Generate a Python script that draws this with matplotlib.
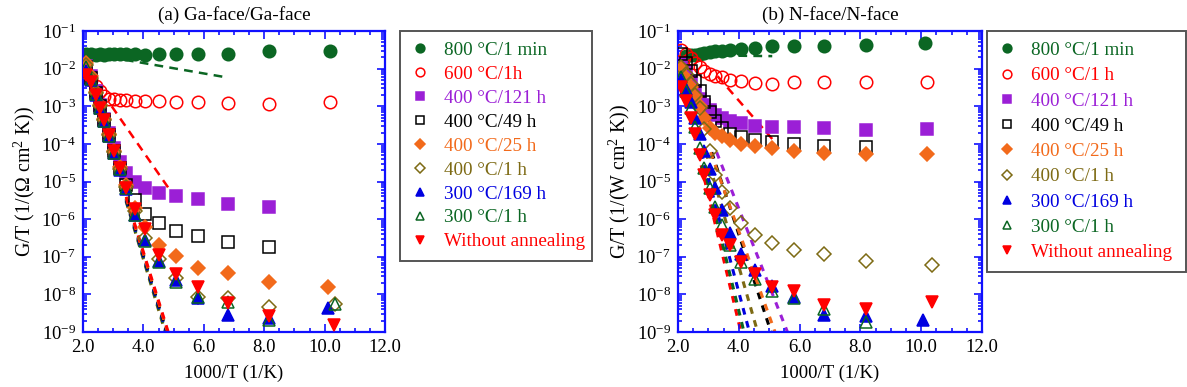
import numpy as np
import matplotlib
matplotlib.use('Agg')
import matplotlib.pyplot as plt
from matplotlib.ticker import MultipleLocator, LogLocator, NullFormatter

plt.rcParams['font.family'] = ['Liberation Serif', 'DejaVu Serif']
plt.rcParams['mathtext.fontset'] = 'custom'
plt.rcParams['mathtext.rm'] = 'Liberation Serif'
plt.rcParams['mathtext.it'] = 'Liberation Serif:italic'

# 1000/T grid shared by both samples (1/K)
inv_t = [2.11, 2.27, 2.42, 2.57, 2.71, 2.87, 3.04, 3.23, 3.44, 3.71,
         4.06, 4.52, 5.08, 5.82, 6.80, 8.17, 10.22]

labels_a = ['800 °C/1 min', '600 °C/1h', '400 °C/121 h', '400 °C/49 h', '400 °C/25 h',
            '400 °C/1 h', '300 °C/169 h', '300 °C/1 h', 'Without annealing']
labels_b = ['800 °C/1 min', '600 °C/1 h', '400 °C/121 h', '400 °C/49 h', '400 °C/25 h',
            '400 °C/1 h', '300 °C/169 h', '300 °C/1 h', 'Without annealing']

nan = np.nan

# (a) Ga-face/Ga-face, G/T values
ga_800_1min = [2.4e-2, 2.5e-2, 2.3e-2, 2.4e-2, 2.3e-2, 2.4e-2, 2.45e-2, 2.5e-2, 2.4e-2,
               2.5e-2, 2.3e-2, 2.4e-2, 2.5e-2, 2.5e-2, 2.5e-2, 2.9e-2, 3.0e-2]
ga_600_1h = [7.9e-3, 5.0e-3, 3.5e-3, 2.5e-3, 1.9e-3, 1.6e-3, 1.55e-3, 1.5e-3, 1.45e-3,
             1.4e-3, 1.35e-3, 1.35e-3, 1.3e-3, 1.3e-3, 1.25e-3, 1.15e-3, 1.3e-3]
ga_400_121h = [1.2e-2, 6.3e-3, 2.5e-3, 1.05e-3, 4.7e-4, 1.9e-4, 7.6e-5, 3.3e-5, 1.66e-5,
               1.0e-5, 6.8e-6, 5.0e-6, 4.0e-6, 3.4e-6, 2.5e-6, 2.1e-6, nan]
ga_400_49h = [1.1e-2, 5.8e-3, 2.3e-3, 1.0e-3, 4.4e-4, 1.75e-4, 6.3e-5, 2.3e-5, 7.9e-6,
              3.2e-6, 1.35e-6, 8.0e-7, 4.9e-7, 3.5e-7, 2.5e-7, 1.8e-7, nan]
ga_400_25h = [1.4e-2, 6.3e-3, 2.4e-3, 1.05e-3, 4.6e-4, 1.8e-4, 6.6e-5, 2.4e-5, 7.9e-6,
              2.0e-6, 6.0e-7, 2.0e-7, 1.05e-7, 4.9e-8, 3.7e-8, 2.1e-8, 1.6e-8]
ga_400_1h = [1.26e-2, 5.8e-3, 2.3e-3, 1.0e-3, 4.3e-4, 1.7e-4, 6.2e-5, 2.2e-5, 7.1e-6,
             1.6e-6, 3.2e-7, 8.9e-8, 2.8e-8, 8.3e-9, 7.8e-9, 4.7e-9, 5.7e-9]
ga_300_169h = [8.7e-3, 5.0e-3, 2.0e-3, 8.9e-4, 4.0e-4, 1.6e-4, 5.6e-5, 2.0e-5, 6.3e-6,
               1.26e-6, 2.75e-7, 7.9e-8, 2.4e-8, 7.8e-9, 2.8e-9, 2.3e-9, 4.3e-9]
ga_300_1h = [1.1e-2, 5.2e-3, 2.1e-3, 9.1e-4, 4.0e-4, 1.6e-4, 5.8e-5, 2.1e-5, 6.6e-6,
             1.3e-6, 2.6e-7, 7.4e-8, 2.1e-8, 8.3e-9, 6.3e-9, 2.1e-9, 5.4e-9]
ga_none = [6.8e-3, 4.5e-3, 2.0e-3, 8.9e-4, 4.2e-4, 1.7e-4, 6.3e-5, 2.3e-5, 6.9e-6,
           1.9e-6, 5.4e-7, 1.1e-7, 3.5e-8, 1.6e-8, 5.9e-9, 2.6e-9, 1.5e-9]
ga_last_x = [10.18, 10.18, 10.2, 10.2, 10.1, 10.35, 10.1, 10.35, 10.3]

# (b) N-face/N-face, G/T values
n_800_1min = [nan, 2.2e-2, 2.3e-2, 2.35e-2, 2.5e-2, 2.6e-2, 2.75e-2, 2.95e-2, 3.0e-2,
              3.2e-2, 3.3e-2, 3.6e-2, 3.9e-2, 4.1e-2, 4.1e-2, 4.3e-2, 4.7e-2]
n_600_1h = [3.2e-2, 2.4e-2, 1.9e-2, 1.4e-2, 1.1e-2, 8.7e-3, 7.4e-3, 6.5e-3, 6.0e-3,
            5.1e-3, 4.8e-3, 4.1e-3, 4.0e-3, 4.3e-3, 4.3e-3, 4.3e-3, 4.5e-3]
n_400_121h = [1.3e-2, 7.9e-3, 4.5e-3, 2.5e-3, 1.6e-3, 1.1e-3, 7.9e-4, 5.9e-4, 4.8e-4,
              4.1e-4, 3.6e-4, 3.0e-4, 2.8e-4, 2.75e-4, 2.6e-4, 2.3e-4, 2.45e-4]
n_400_49h = [2.4e-2, 1.4e-2, 8.7e-3, 4.8e-3, 2.5e-3, 1.3e-3, 7.1e-4, 4.0e-4, 2.6e-4,
             1.8e-4, 1.5e-4, 1.3e-4, 1.15e-4, 1.0e-4, 8.9e-5, 8.3e-5, nan]
n_400_25h = [1.07e-2, 5.6e-3, 3.2e-3, 1.8e-3, 1.0e-3, 5.0e-4, 2.7e-4, 2.0e-4, 1.6e-4,
             1.3e-4, 1.0e-4, 8.7e-5, 7.6e-5, 6.6e-5, 5.6e-5, 5.4e-5, 5.4e-5]
n_400_1h = [1.1e-2, 7.4e-3, 4.0e-3, 2.0e-3, 8.9e-4, 2.5e-4, 6.3e-5, 1.5e-5, 5.2e-6,
            2.0e-6, 7.8e-7, 3.8e-7, 2.3e-7, 1.5e-7, 1.15e-7, 7.8e-8, 6.0e-8]
n_300_169h = [5.0e-3, 2.8e-3, 1.26e-3, 5.0e-4, 1.8e-4, 6.3e-5, 2.2e-5, 6.6e-6, 1.7e-6,
              4.2e-7, 1.2e-7, 4.4e-8, 1.7e-8, 8.5e-9, 2.8e-9, 2.6e-9, 2.1e-9]
n_300_1h = [6.0e-3, 2.5e-3, 8.9e-4, 2.8e-4, 7.9e-5, 2.3e-5, 6.8e-6, 2.1e-6, 6.9e-7,
            2.0e-7, 7.1e-8, 2.6e-8, 1.2e-8, 7.8e-9, 4.2e-9, 1.9e-9, nan]
n_none = [3.3e-3, 1.4e-3, 5.0e-4, 1.8e-4, 5.0e-5, 1.5e-5, 4.4e-6, 1.3e-6, 3.7e-7,
          2.0e-7, 7.4e-8, 3.5e-8, 1.6e-8, 1.2e-8, 5.1e-9, 4.2e-9, 6.3e-9]
n_last_x = [10.12, 10.18, 10.18, 10.2, 10.18, 10.35, 10.07, 10.2, 10.35]

# Arrhenius fit lines: series index, start (x, G/T), end (x, G/T)
fit_a_idx = [0, 1, 5, 7, 6, 3, 4, 8]
fit_a_x0 = [2.9, 2.95, 3.3, 3.3, 3.3, 3.3, 3.3, 3.3]
fit_a_y0 = [2.0e-2, 1.0e-3, 6.5e-6, 6.9e-6, 7.3e-6, 7.7e-6, 8.1e-6, 8.6e-6]
fit_a_x1 = [6.81, 4.99, 4.72, 4.74, 4.76, 4.78, 4.80, 4.82]
fit_a_y1 = [5.75e-3, 4.4e-6, 1e-9, 1e-9, 1e-9, 1e-9, 1e-9, 1e-9]

fit_b_idx = [0, 1, 8, 7, 6, 5, 3, 4, 2]
fit_b_x0 = [3.0, 3.3, 2.66, 2.73, 2.77, 2.92, 3.11, 3.07, 3.27]
fit_b_y0 = [2.25e-2, 6.3e-3, 6e-5, 6e-5, 6e-5, 6e-5, 6e-5, 6e-5, 6e-5]
fit_b_x1 = [5.1, 5.1, 4.07, 4.17, 4.35, 4.62, 5.06, 5.19, 5.6]
fit_b_y1 = [2.15e-2, 1.35e-4, 1e-9, 1e-9, 1e-9, 1e-9, 1e-9, 1e-9, 1e-9]

colors = ['#0b6623', '#ff0000', '#9b1fd6', '#000000', '#f26a1b',
          '#7d6a14', '#0000e0', '#0b6623', '#ff0000']
markers = ['o', 'o', 's', 's', 'D', 'D', '^', '^', 'v']
filled = [True, False, True, False, True, False, True, False, True]
msizes = [9, 9, 8.5, 8.5, 7, 7, 8.5, 8.5, 9]

series_a = [ga_800_1min, ga_600_1h, ga_400_121h, ga_400_49h, ga_400_25h,
            ga_400_1h, ga_300_169h, ga_300_1h, ga_none]
series_b = [n_800_1min, n_600_1h, n_400_121h, n_400_49h, n_400_25h,
            n_400_1h, n_300_169h, n_300_1h, n_none]

blue = '#1010ff'
fig = plt.figure(figsize=(11.87, 3.87), dpi=100)
ax_a = fig.add_axes([83 / 1187, 1 - 332 / 387, 302 / 1187, 301 / 387])
ax_b = fig.add_axes([678 / 1187, 1 - 332 / 387, 304 / 1187, 301 / 387])


def draw_panel(ax, series, last_x, labels, f_idx, fx0, fy0, fx1, fy1, title, ylab,
               leg_box, leg_space):
    # fit lines under the points
    for k in range(len(f_idx)):
        c = colors[f_idx[k]]
        steep = fy1[k] <= 1e-9
        ax.plot([fx0[k], fx1[k]], [fy0[k], fy1[k]], color=c, lw=2.2 if steep else 1.8,
                ls=(0, (2.2, 2.2)) if steep else (0, (3.5, 2.5)), zorder=1)

    handles = []
    for i, vals in enumerate(series):
        xs = inv_t[:-1] + [last_x[i]]
        fc = colors[i] if filled[i] else 'none'
        h, = ax.plot(xs, vals, ls='none', marker=markers[i], ms=msizes[i],
                     mfc=fc, mec=colors[i], mew=1.1, zorder=2 + i, label=labels[i])
        handles.append(h)

    ax.set_yscale('log')
    ax.set_xlim(2, 12)
    ax.set_ylim(1e-9, 1e-1)
    ax.xaxis.set_major_locator(MultipleLocator(2))
    ax.xaxis.set_minor_locator(MultipleLocator(0.5))
    ax.xaxis.set_major_formatter(matplotlib.ticker.FormatStrFormatter('%.1f'))
    ax.yaxis.set_major_locator(LogLocator(base=10, numticks=20))
    ax.yaxis.set_minor_locator(LogLocator(base=10, subs=np.arange(2, 10), numticks=20))
    ax.yaxis.set_minor_formatter(NullFormatter())
    for s in ax.spines.values():
        s.set_color(blue)
        s.set_linewidth(1.6)
    ax.tick_params(which='both', direction='in', top=True, right=True, color=blue,
                   labelsize=13.5, width=1.2)
    ax.tick_params(which='major', length=6, pad=5)
    ax.tick_params(which='minor', length=3)
    ax.set_title(title, fontsize=13.8, pad=8)
    ax.set_xlabel('1000/T (1/K)', fontsize=13.5, labelpad=6)
    ax.set_ylabel(ylab, fontsize=14.3, labelpad=3)

    leg = ax.legend(handles=handles, loc='upper left', bbox_to_anchor=leg_box,
                    bbox_transform=fig.transFigure, mode='expand', borderaxespad=0,
                    fontsize=13.8, labelcolor=colors, markerscale=0.7, handlelength=1.0,
                    handletextpad=0.75, borderpad=0.55, labelspacing=leg_space,
                    fancybox=False, framealpha=1, edgecolor='#555555')
    leg.get_frame().set_linewidth(1.4)


draw_panel(ax_a, series_a, ga_last_x, labels_a, fit_a_idx, fit_a_x0, fit_a_y0,
           fit_a_x1, fit_a_y1, '(a) Ga-face/Ga-face', 'G/T (1/(Ω cm$^2$ K))',
           (400 / 1187, 1 - 31 / 387, 192 / 1187, 0), 0.34)
draw_panel(ax_b, series_b, n_last_x, labels_b, fit_b_idx, fit_b_x0, fit_b_y0,
           fit_b_x1, fit_b_y1, '(b) N-face/N-face', 'G/T (1/(W cm$^2$ K))',
           (987 / 1187, 1 - 31 / 387, 199 / 1187, 0), 0.41)

fig.savefig('out.png', dpi=100)
